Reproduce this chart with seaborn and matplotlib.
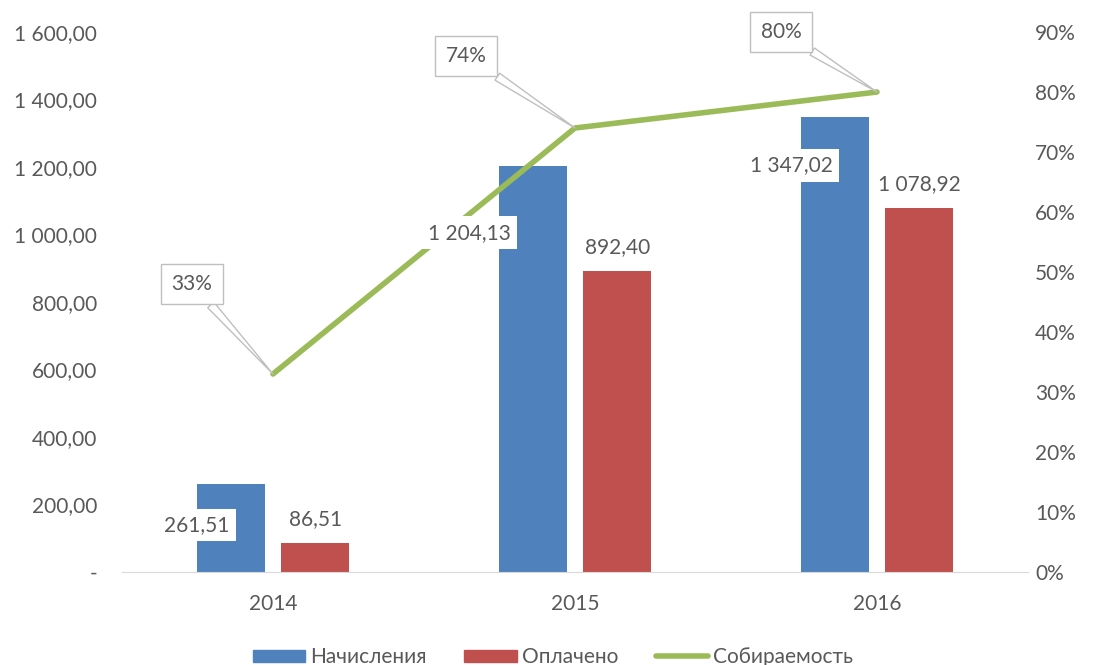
import pandas as pd
import matplotlib.pyplot as plt
import numpy as np
import seaborn as sns
from matplotlib.patches import Patch
from matplotlib.lines import Line2D
from matplotlib.ticker import FuncFormatter

years = ['2014', '2015', '2016']
accrued = [261.51, 1204.13, 1347.02]
paid = [86.51, 892.40, 1078.92]
collection = [0.33, 0.74, 0.80]
series_names = ['Начисления', 'Оплачено', 'Собираемость']

BLUE = '#4F81BD'
RED = '#C0504D'
GREEN = '#9BBB59'
TXT = '#595959'
FS = 15


def ru_num(v):
    s = '{:,.2f}'.format(v)
    return s.replace(',', ' ').replace('.', ',')


df = pd.DataFrame({
    'year': years * 2,
    'value': accrued + paid,
    'series': [series_names[0]] * 3 + [series_names[1]] * 3,
})

sns.set_style('white')
plt.rcParams['font.family'] = ['Lato', 'DejaVu Sans']

fig = plt.figure(figsize=(10.93, 6.65), dpi=100)
ax = fig.add_axes([0.1116, 0.1398, 0.8289, 0.8121])

sns.barplot(data=df, x='year', y='value', hue='series', order=years,
            palette=[BLUE, RED], width=0.56, gap=0.2, saturation=1,
            linewidth=0, legend=False, ax=ax)

ax.set_xlim(-0.5, 2.5)
ax.set_ylim(0, 1600)
ax.set_yticks(np.arange(0, 1601, 200))
ax.yaxis.set_major_formatter(FuncFormatter(lambda v, p: '-' if v == 0 else ru_num(v)))
ax.set_xlabel('')
ax.set_ylabel('')
ax.tick_params(axis='both', length=0, labelsize=FS, labelcolor=TXT)
ax.tick_params(axis='x', pad=16)
ax.tick_params(axis='y', pad=18)
for s in ['top', 'right', 'left']:
    ax.spines[s].set_visible(False)
ax.spines['bottom'].set_color('#D9D9D9')

ax2 = ax.twinx()
sns.lineplot(x=np.arange(len(years)), y=collection, color=GREEN, linewidth=4,
             ax=ax2)
ax2.set_ylim(0, 0.9)
ax2.set_yticks(np.arange(0, 0.91, 0.1))
ax2.yaxis.set_major_formatter(FuncFormatter(lambda v, p: '{:.0f}%'.format(v * 100)))
ax2.tick_params(axis='y', length=0, labelsize=FS, labelcolor=TXT, pad=5)
for s in ['top', 'right', 'left', 'bottom']:
    ax2.spines[s].set_visible(False)
ax2.set_xlim(-0.5, 2.5)

# bar labels (drawn on the twin axis so they sit above the line)
blue_dx = [-34, -63, -43]
blue_dy = [-41, -67, -48]
for i, v in enumerate(accrued):
    ax2.annotate(ru_num(v), xy=(i - 0.14, v), xycoords=ax.transData,
                 xytext=(blue_dx[i], blue_dy[i]),
                 textcoords='offset pixels', ha='center', va='center',
                 fontsize=FS, color=TXT,
                 bbox=dict(boxstyle='square,pad=0.3', fc='white', ec='none'))
for i, v in enumerate(paid):
    ax2.annotate(ru_num(v), xy=(i + 0.14, v), xycoords=ax.transData,
                 xytext=(0, 24),
                 textcoords='offset pixels', ha='center', va='center',
                 fontsize=FS, color=TXT)

call_off = [(-81, 90), (-109, 72), (-96, 60)]
for i, v in enumerate(collection):
    ax2.annotate('{:.0f}%'.format(v * 100), xy=(i, v), xytext=call_off[i],
                 textcoords='offset pixels', ha='center', va='center',
                 fontsize=FS, color=TXT,
                 bbox=dict(boxstyle='square,pad=0.5', fc='white', ec='#BFBFBF', lw=1),
                 arrowprops=dict(arrowstyle='wedge,tail_width=0.4,shrink_factor=0.5',
                                 fc='white', ec='#BFBFBF', lw=1, shrinkA=0, shrinkB=0))

handles = [Patch(color=BLUE), Patch(color=RED), Line2D([], [], color=GREEN, lw=4)]
fig.legend(handles, series_names, loc='center', bbox_to_anchor=(0.506, 0.012),
           ncol=3, frameon=False, fontsize=FS, labelcolor=TXT,
           handlelength=2.5, handleheight=0.5, handletextpad=0.25, columnspacing=1.8)

fig.savefig('out.png', dpi=100)
